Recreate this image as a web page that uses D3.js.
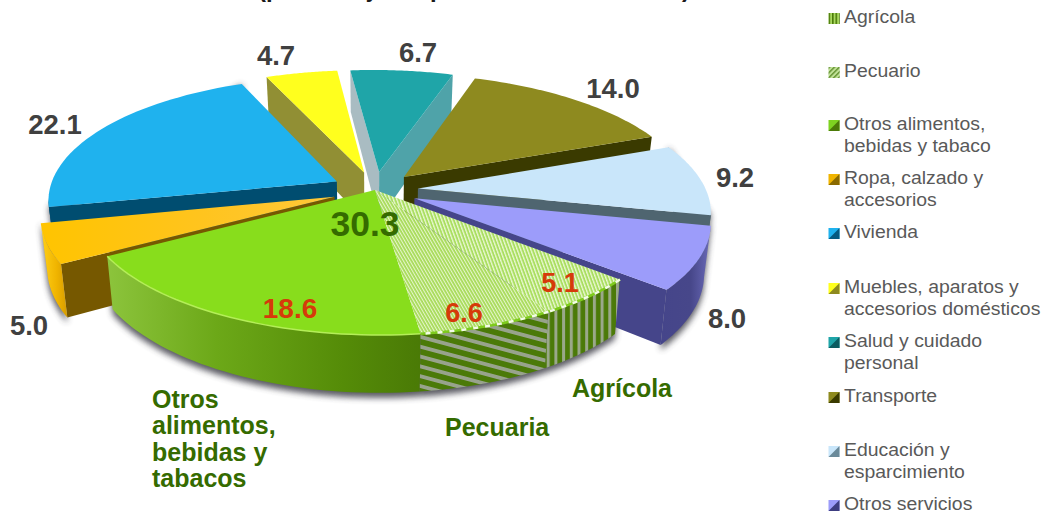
<!DOCTYPE html>
<html><head><meta charset="utf-8">
<script src="https://cdn.jsdelivr.net/npm/d3@7/dist/d3.min.js"></script>
<style>html,body{margin:0;padding:0;background:#fff;overflow:hidden}svg{display:block}text{font-family:"Liberation Sans",Arial,sans-serif}</style>
</head><body><svg id="c" width="1045" height="514"></svg>
<script>
const categories=["Agrícola","Pecuario","Otros alimentos, bebidas y tabaco","Ropa, calzado y accesorios","Vivienda","Muebles, aparatos y accesorios domésticos","Salud y cuidado personal","Transporte","Educación y esparcimiento","Otros servicios"];
const values=[5.1,6.6,18.6,5.0,22.1,4.7,6.7,14.0,9.2,8.0];
const explode=[0,0,0,.15,.15,.15,.15,.15,.15,.15];
const topColors=["url(#hAgriTop)","url(#hPecTop)","#88dd1c","url(#gOrange)","#1fb2ee","#ffff1e","#1fa5a8","#8e8a1f","#c9e6fa","#9c9cfa"];
const wallColors=["url(#hAgri)","url(#hPec)","url(#gGreen)","url(#gGold)","#004d70","#918f34","#a9bcc2","#756f00","#4f6570","url(#gPurple)"];
const radialColors=["#4b7a08","#4b7a08","#4b7a08","#765800","#004d70","#918f34","#a9bcc2","#3a3a00","#4f6570","#3d3d80"];
const radialEnd=["#4b7a08","#4b7a08","#4b7a08","#765800","#004d70","#918f34","#4fa3a9","#3a3a00","#4f6570","#45458a"];
const legendLines=[["Agrícola"],["Pecuario"],["Otros alimentos,","bebidas y tabaco"],["Ropa, calzado y","accesorios"],["Vivienda"],["Muebles, aparatos y","accesorios domésticos"],["Salud y cuidado","personal"],["Transporte"],["Educación y","esparcimiento"],["Otros servicios"]];
const legendY=[18,72,125,179,233,288,342,397,451,505];
const legendMarks=[["url(#mAgri)","url(#mAgri)"],["url(#mPec)","url(#mPec)"],["#7ed321","#4b7a08"],["#f0b400","#8a6a00"],["#1fb2ee","#055a80"],["#ffff1e","#8e8a1f"],["#1fa5a8","#0b5c60"],["#8e8a1f","#3a3a00"],["#c9e6fa","#6a8a9a"],["#9c9cfa","#3d3d80"]];
const valueLabels=[[5.1,560,292,"#d63a0a",27],[6.6,464,322,"#d63a0a",27],[18.6,290,318,"#d63a0a",28],[5.0,29,335,"#404040",27.5],[22.1,55,134,"#404040",27.5],[4.7,276,65,"#404040",27.5],[6.7,418,62,"#404040",27.5],[14.0,613,98,"#404040",27.5],[9.2,735,187,"#404040",27.5],[8.0,727,328,"#404040",27.5],[30.3,365,236,"#356b00",35.5]];
const nameLabels=[[["Agrícola"],572,397],[["Pecuaria"],445,436],[["Otros","alimentos,","bebidas y","tabacos"],152,408]];

const svg=d3.select("#c");
const defs=svg.append("defs");
const [rx,ry,k,cx,cy,depth,shear]=[288,122.8,.153,375,190,49,5];
const project=(X,Y)=>{const s=1/(1-k*Y);return [cx+rx*X*s+shear*Y,cy+ry*Y*s,s];};
const pie=d3.pie().sort(null).value(d=>d).startAngle(131*Math.PI/180).endAngle((131+360)*Math.PI/180);
const arcs=pie(values);

function lg(id,stops,x1=0,y1=0,x2=1,y2=0){const g=defs.append("linearGradient").attr("id",id).attr("x1",x1).attr("y1",y1).attr("x2",x2).attr("y2",y2);stops.forEach(s=>g.append("stop").attr("offset",s[0]).attr("stop-color",s[1]));}
lg("gGreen",[[0,"#8cc43c"],[.35,"#6ca818"],[.75,"#558c08"],[1,"#4a7a06"]]);
lg("gGold",[[0,"#ffd018"],[.6,"#f0b400"],[1,"#d69c00"]]);
lg("gOrange",[[0,"#ffc400"],[.55,"#ffc41e"],[1,"#ffc83a"]]);
lg("gPurple",[[0,"#45458a"],[.6,"#47478a"],[1,"#6a6ab8"]]);
function hatch(id,a,b,size,angle,w){const p=defs.append("pattern").attr("id",id).attr("patternUnits","userSpaceOnUse").attr("width",size).attr("height",size).attr("patternTransform",`rotate(${angle})`);p.append("rect").attr("width",size).attr("height",size).attr("fill",a);p.append("rect").attr("width",w).attr("height",size).attr("fill",b);}
hatch("hAgri","#4b7a08","#9aa88a",7.7,0,3);
hatch("hPec","#4b7a08","#98a38c",9.5,-75,3.8);
hatch("hAgriTop","#aade60","#eaf8d4",3.2,-20,1.3);
hatch("hPecTop","#a6da56","#e6f6cc",2.8,-30,1.1);
hatch("mAgri","#a8d860","#4b7a08",3.5,0,1.6);
hatch("mPec","#c4e49a","#6d9a3c",3.5,45,1.6);
const f=defs.append("filter").attr("id","shadow").attr("x","-10%").attr("y","-10%").attr("width","120%").attr("height","130%");
f.append("feGaussianBlur").attr("stdDeviation",3);

const line=d3.line();
function slice(a,i){
  const e=explode[i],mid=(a.startAngle+a.endAngle)/2;
  const ox=e*Math.sin(mid),oy=-e*Math.cos(mid);
  const P=t=>project(ox+Math.sin(t),oy-Math.cos(t));
  const rim=d3.range(0,41).map(j=>P(a.startAngle+(a.endAngle-a.startAngle)*j/40));
  return {i,apex:project(ox,oy),rim,midY:-Math.cos(mid)};
}
const down=p=>[cx+(p[0]-cx)*.98,p[1]+depth*p[2]];
const pts=p=>[p[0],p[1]];
const slices=arcs.map(slice).sort((a,b)=>a.midY-b.midY);

const gShadow=svg.append("g").attr("filter","url(#shadow)").attr("fill","#3c3c46").attr("opacity",.85);
slices.filter(s=>[0,1,2,3,4,8,9].includes(s.i)).forEach(s=>{
  const r=s.rim.map(p=>{const q=down(p);return [q[0],q[1]+5];});
  gShadow.append("path").attr("d",line(r.concat([pts(s.rim[s.rim.length-1]),pts(s.rim[0])]))+"Z");
});

const g=svg.append("g");
slices.forEach(s=>{
  const i=s.i,rim=s.rim,first=rim[0],last=rim[rim.length-1];
  if(explode[i]>0){
    if(first[0]<s.apex[0]) g.append("path").attr("d",line([s.apex,first,down(first),down(s.apex)].map(pts))+"Z").attr("fill",radialColors[i]);
    if(last[0]>s.apex[0]) g.append("path").attr("d",line([last,s.apex,down(s.apex),down(last)].map(pts))+"Z").attr("fill",radialEnd[i]);
  }
  const front=rim.filter((p,j)=>j===0||p[0]<=rim[j-1][0]);
  if(front.length>1){
    g.append("path").attr("d",line(front.map(pts).concat(front.slice().reverse().map(down)))+"Z").attr("fill",wallColors[i]);
  }
  g.append("path").attr("d",line([s.apex].concat(rim).map(pts))+"Z").attr("fill",topColors[i]);
  if(i===2) g.append("path").attr("d",line(rim.map(pts))).attr("fill","none").attr("stroke","#b4ee58").attr("stroke-width",1.5);
  if(i<2){
    g.append("path").attr("d",line(rim.map(pts))).attr("fill","none").attr("stroke","#7ecb1c").attr("stroke-width",2.5);
    g.append("path").attr("d",line(rim.map(pts))).attr("fill","none").attr("stroke","#f4fbe8").attr("stroke-width",2.5).attr("stroke-dasharray","5 7");
  }
});

const lab=svg.append("g").attr("font-weight","bold");
valueLabels.forEach(d=>lab.append("text").attr("x",d[1]).attr("y",d[2]).attr("text-anchor","middle").attr("font-size",d[4]).attr("fill",d[3]).text(d[0].toFixed(1)));
nameLabels.forEach(d=>d[0].forEach((t,j)=>lab.append("text").attr("x",d[1]).attr("y",d[2]+j*26.3).attr("font-size",25).attr("fill","#356b00").text(t)));

const leg=svg.append("g");
legendLines.forEach((ls,i)=>{
  const y=legendY[i],x=828.5,m=legendMarks[i];
  const b=leg.append("g").attr("transform",`translate(${x},${y-5})`);
  b.append("rect").attr("width",11).attr("height",11).attr("fill",m[0]);
  b.append("path").attr("d","M0,11L5.5,5.5L11,0V11Z").attr("fill",m[1]);
  ls.forEach((t,j)=>leg.append("text").attr("transform",`translate(844,${y+j*21.5+5}) scale(1.05,1)`).attr("font-size",18.5).attr("fill","#595959").text(t));
});

svg.append("text").attr("x",258).attr("y",-3).attr("font-size",24).attr("font-weight","bold").attr("fill","#1a1a1a").text("(porcentaje respecto al total nacional)");
</script></body></html>
